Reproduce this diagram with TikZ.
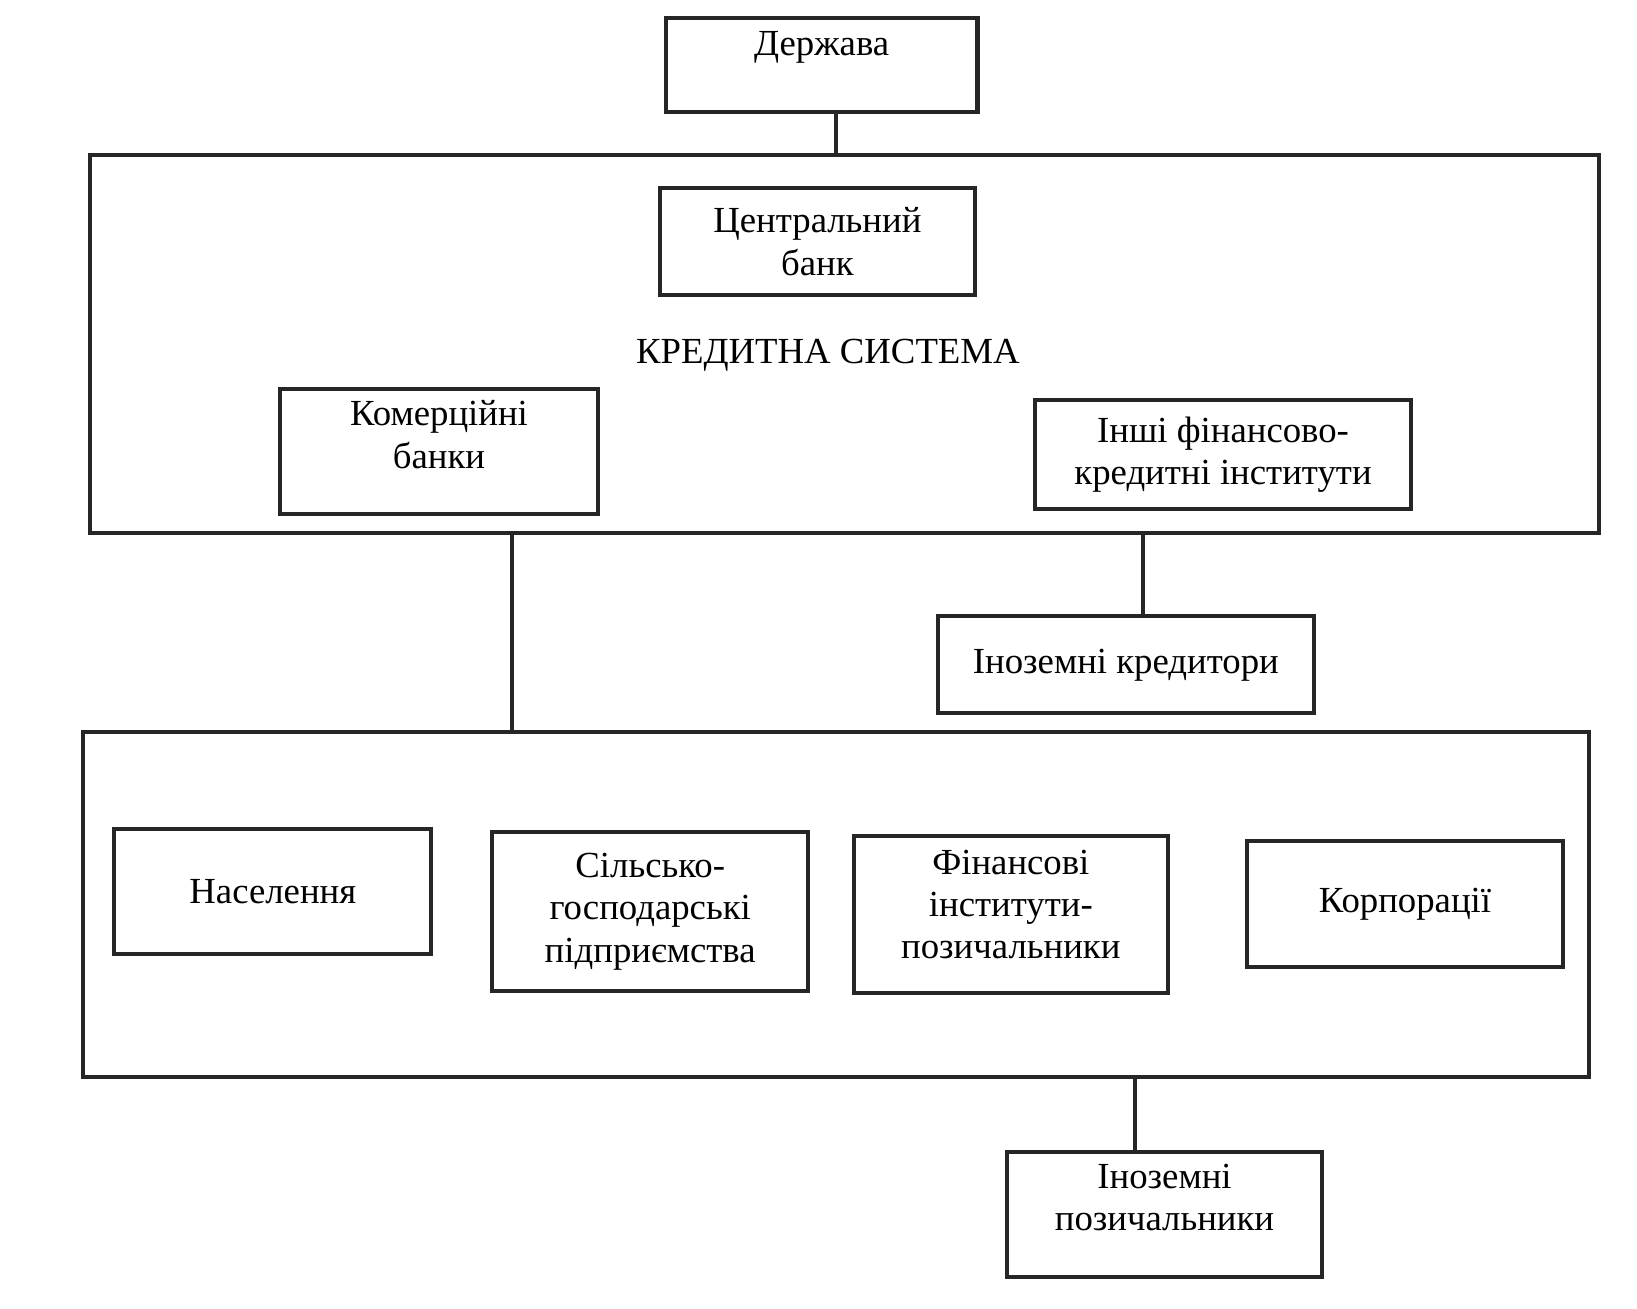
\documentclass[tikz,border=0pt]{standalone}
\usepackage{fontspec}
\setmainfont{Liberation Serif}
\usetikzlibrary{positioning}
\tikzset{
  blok/.style={draw=black!85, line width=1.1pt, align=center,
    font=\fontsize{10}{11.5}\selectfont, inner sep=2pt},
  lnk/.style={draw=black!85, line width=1.1pt}
}

\begin{document}
\begin{tikzpicture}[x=0.01cm, y=-0.01cm]
  \useasboundingbox (0,0) rectangle (1566,1252);
  \node[blok, minimum width=14.43cm, minimum height=3.62cm] (sys) at (808,329) {};
  \node[blok, minimum width=14.40cm, minimum height=3.30cm] (users) at (800,865) {};
  \node[blok, minimum width=2.98cm, minimum height=0.90cm] (state) at (786,62) {Держава\\~};
  \node[blok, minimum width=3.01cm, minimum height=1.03cm] (cbank) at (782,231) {Центральний\\банк};
  \node[font=\fontsize{10}{11.5}\selectfont] (title) at (792,340) {КРЕДИТНА СИСТЕМА};
  \node[blok, minimum width=3.04cm, minimum height=1.19cm, text depth=0.33cm] (kbank) at (420,432) {Комерційні\\банки};
  \node[blok, minimum width=3.60cm, minimum height=1.04cm] (other) at (1170,435) {Інші фінансово-\\кредитні інститути};
  \node[blok, minimum width=3.60cm, minimum height=0.93cm] (fcred) at (1077,636) {Іноземні кредитори};
  \node[blok, minimum width=3.03cm, minimum height=1.20cm] (pop) at (261,853) {Населення};
  \node[blok, minimum width=3.02cm, minimum height=1.52cm] (agri) at (622,872) {Сільсько-\\господарські\\підприємства};
  \node[blok, minimum width=3.00cm, minimum height=1.50cm, text depth=0.2cm] (finb) at (967,875) {Фінансові\\інститути-\\позичальники};
  \node[blok, minimum width=3.02cm, minimum height=1.20cm] (corp) at (1344,865) {Корпорації};
  \node[blok, minimum width=3.02cm, minimum height=1.19cm, text depth=0.33cm] (fborr) at (1114,1162) {Іноземні\\позичальники};

  \coordinate (j1) at (800,0);
  \coordinate (j2) at (490,0);
  \coordinate (j3) at (1093,0);
  \coordinate (j4) at (1086,0);
  \draw[lnk] (state.south -| j1) -- (sys.north -| j1);
  \draw[lnk] (sys.south -| j2) -- (users.north -| j2);
  \draw[lnk] (sys.south -| j3) -- (fcred.north -| j3);
  \draw[lnk] (users.south -| j4) -- (fborr.north -| j4);
\end{tikzpicture}
\end{document}
